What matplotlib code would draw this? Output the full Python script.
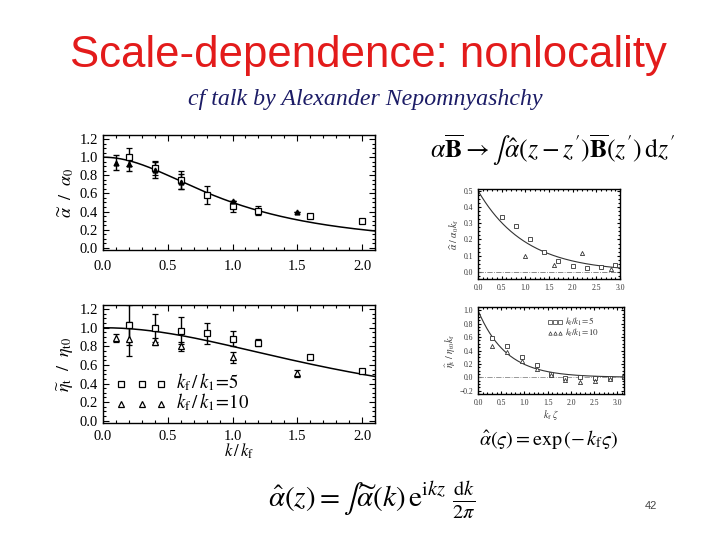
import numpy as np
import matplotlib
matplotlib.use("Agg")
import matplotlib.pyplot as plt
from matplotlib.ticker import MultipleLocator, AutoMinorLocator

plt.rcParams['mathtext.fontset'] = 'stix'
plt.rcParams['font.family'] = ['Liberation Serif', 'DejaVu Serif']

# ---- data ----
# top-left: alpha~ / alpha0 vs k/kf
ka_sq = [0.2, 0.4, 0.6, 0.8, 1.0, 1.2, 1.6, 2.0]
a_sq = [1.00, 0.88, 0.75, 0.58, 0.46, 0.41, 0.35, 0.29]
a_sq_err = [0.10, 0.08, 0.10, 0.10, 0.06, 0.05, 0.0, 0.0]
ka_tr = [0.1, 0.2, 0.4, 0.6, 1.0, 1.5]
a_tr = [0.94, 0.92, 0.86, 0.73, 0.52, 0.39]
a_tr_err = [0.08, 0.07, 0.09, 0.08, 0.0, 0.0]

# bottom-left: eta~_t / eta_t0 vs k/kf
ke_sq = [0.2, 0.4, 0.6, 0.8, 1.0, 1.2, 1.6, 2.0]
e_sq = [1.03, 1.00, 0.97, 0.94, 0.88, 0.84, 0.68, 0.54]
e_sq_err = [0.22, 0.15, 0.15, 0.11, 0.08, 0.04, 0.02, 0.02]
ke_tr = [0.1, 0.2, 0.4, 0.6, 1.0, 1.5]
e_tr = [0.89, 0.88, 0.85, 0.80, 0.68, 0.51]
e_tr_err = [0.04, 0.18, 0.04, 0.05, 0.06, 0.04]

# top-right: alpha^ / (alpha0 kf) vs kf zeta
za_sq = [0.5, 0.8, 1.1, 1.4, 1.7, 2.0, 2.3, 2.6, 2.9]
ah_sq = [0.34, 0.28, 0.20, 0.125, 0.07, 0.037, 0.025, 0.03, 0.043]
za_tr = [1.0, 1.6, 2.2, 2.8]
ah_tr = [0.10, 0.045, 0.117, 0.02]

# bottom-right: eta^_t / (eta_t0 kf) vs kf zeta
ze = [0.31, 0.63, 0.94, 1.26, 1.57, 1.88, 2.20, 2.51, 2.83, 3.14]
eh_sq = [0.59, 0.46, 0.31, 0.19, 0.05, -0.015, 0.005, -0.01, -0.01, 0.0]
eh_tr = [0.47, 0.38, 0.25, 0.13, 0.04, -0.04, -0.07, -0.06, -0.025, 0.0]

# model curves drawn on the panels
k0_alpha, k0_eta = 1.0, 2.0
decay_eta = 1.65

W, H = 720, 540
fig = plt.figure(figsize=(7.2, 5.4), dpi=100)
fig.patch.set_facecolor('white')


def px_axes(l, t, r, b):
    return fig.add_axes([l / W, 1 - b / H, (r - l) / W, (b - t) / H])


def idl_style(ax, size, xmaj, ymaj):
    ax.xaxis.set_major_locator(MultipleLocator(xmaj))
    ax.yaxis.set_major_locator(MultipleLocator(ymaj))
    ax.xaxis.set_minor_locator(AutoMinorLocator(5))
    ax.yaxis.set_minor_locator(AutoMinorLocator(4))
    ax.tick_params(which='both', direction='in', top=True, right=True,
                   labelsize=size, width=0.8)
    ax.tick_params(which='major', length=4)
    ax.tick_params(which='minor', length=2)
    for s in ax.spines.values():
        s.set_linewidth(1.0)


# ---- top-left ----
ax1 = px_axes(103, 135, 375, 250)
kk = np.linspace(0, 2.1, 200)
ax1.plot(kk, 1 / (1 + (kk / k0_alpha) ** 2), 'k-', lw=1.1)
ax1.errorbar(ka_sq, a_sq, yerr=a_sq_err, fmt='s', mfc='white', mec='k',
             ecolor='k', ms=5, mew=0.9, capsize=2, elinewidth=1)
ax1.errorbar(ka_tr, a_tr, yerr=a_tr_err, fmt='^', color='k', ms=3.5,
             capsize=2, elinewidth=1)
ax1.set_xlim(0, 2.1)
ax1.set_ylim(-0.025, 1.245)
idl_style(ax1, 10.5, 0.5, 0.2)
ax1.tick_params(axis='x', pad=7)
ax1.set_ylabel(r'$\widetilde{\alpha}\ \ /\ \ \alpha_0$', fontsize=13, labelpad=3)

# ---- bottom-left ----
ax2 = px_axes(103, 305, 375, 423)
ax2.plot(kk, 1 / (1 + (kk / k0_eta) ** 2), 'k-', lw=1.1)
ax2.errorbar(ke_sq, e_sq, yerr=e_sq_err, fmt='s', mfc='white', mec='k',
             ecolor='k', ms=5, mew=0.9, capsize=2, elinewidth=1)
ax2.errorbar(ke_tr, e_tr, yerr=e_tr_err, fmt='^', mfc='white', mec='k',
             ecolor='k', ms=4, mew=0.9, capsize=2, elinewidth=1)
ax2.plot([0.14, 0.30, 0.45], [0.40] * 3, 's', mfc='white', mec='k', ms=5, mew=0.9)
ax2.plot([0.14, 0.30, 0.45], [0.18] * 3, '^', mfc='white', mec='k', ms=4, mew=0.9)
ax2.text(0.56, 0.42, r'$k_{\rm f}\,/\,k_1\!=\!5$', fontsize=13.5, va='center')
ax2.text(0.56, 0.20, r'$k_{\rm f}\,/\,k_1\!=\!10$', fontsize=13.5, va='center')
ax2.set_xlim(0, 2.1)
ax2.set_ylim(-0.025, 1.245)
idl_style(ax2, 10.5, 0.5, 0.2)
ax2.tick_params(axis='x', pad=5)
ax2.set_ylabel(r'$\widetilde{\eta}_{\rm t}\ \ /\ \ \eta_{\rm t0}$', fontsize=13, labelpad=3)
ax2.set_xlabel(r'$k\,/\,k_{\rm f}$', fontsize=12, labelpad=-1)

# ---- top-right ----
ax3 = px_axes(478, 189, 620, 279)
zz = np.linspace(0, 3.0, 200)
ax3.plot(zz, 0.5 * np.exp(-zz / k0_alpha), color='#333333', lw=0.8)
ax3.axhline(0, color='#777777', lw=0.6, ls='-.')
ax3.plot(za_sq, ah_sq, 's', mfc='white', mec='#333333', ms=3, mew=0.6)
ax3.plot(za_tr, ah_tr, '^', mfc='white', mec='#333333', ms=3, mew=0.6)
ax3.set_xlim(0, 3.0)
ax3.set_ylim(-0.043, 0.51)
idl_style(ax3, 5.5, 0.5, 0.1)
ax3.tick_params(which='major', length=2.5)
ax3.tick_params(which='minor', length=1.2)
ax3.tick_params(labelcolor='#333333')
ax3.set_ylabel(r'$\widehat{\alpha}\ /\ \alpha_0 k_{\rm f}$', fontsize=7,
               color='#333333', labelpad=2)

# ---- bottom-right ----
ax4 = px_axes(478, 307, 624, 394)
zz2 = np.linspace(0, 3.14, 200)
ax4.plot(zz2, np.exp(-decay_eta * zz2), color='#333333', lw=0.8)
ax4.axhline(0, color='#888888', lw=0.6, ls='-.')
ax4.plot(ze, eh_sq, 's', mfc='white', mec='#333333', ms=3, mew=0.6)
ax4.plot(ze, eh_tr, '^', mfc='white', mec='#333333', ms=3, mew=0.6)
ax4.plot([1.55, 1.66, 1.77], [0.82] * 3, 's', mfc='white', mec='#333333', ms=2.5, mew=0.5)
ax4.plot([1.55, 1.66, 1.77], [0.66] * 3, '^', mfc='white', mec='#333333', ms=2.5, mew=0.5)
ax4.text(1.88, 0.83, r'$k_{\rm f}/k_1\!=\!5$', fontsize=6.5, va='center', color='#333333')
ax4.text(1.88, 0.67, r'$k_{\rm f}/k_1\!=\!10$', fontsize=6.5, va='center', color='#333333')
ax4.set_xlim(0, 3.14)
ax4.set_ylim(-0.25, 1.05)
idl_style(ax4, 5.5, 0.5, 0.2)
ax4.tick_params(which='major', length=2.5)
ax4.tick_params(which='minor', length=1.2)
ax4.tick_params(labelcolor='#333333')
ax4.set_ylabel(r'$\widehat{\eta}_{\rm t}\ /\ \eta_{\rm t0} k_{\rm f}$', fontsize=7,
               color='#333333', labelpad=2)
ax4.set_xlabel(r'$k_{\rm f}\ \zeta$', fontsize=7, color='#333333', labelpad=1)

# ---- slide text ----
fig.text(368 / W, 1 - 56 / H, 'Scale-dependence: nonlocality', ha='center', va='center',
         fontsize=31.5, color='#e31b1b', family=['Liberation Sans', 'DejaVu Sans'])
fig.text(365 / W, 1 - 100 / H, 'cf talk by Alexander Nepomnyashchy', ha='center',
         va='center', fontsize=17.2, style='italic', color='#1c1c66')
fig.text(553 / W, 1 - 150 / H,
         r"$\alpha\overline{\mathbf{B}}\rightarrow\int\hat{\alpha}(z-z')"
         r"\overline{\mathbf{B}}(z')\,\mathrm{d}z'$",
         ha='center', va='center', fontsize=18.5)
fig.text(549 / W, 1 - 440 / H, r'$\hat{\alpha}(\varsigma)=\exp\left(-\,k_{\rm f}\varsigma\right)$',
         ha='center', va='center', fontsize=14.5)
fig.text(372 / W, 1 - 500 / H,
         r'$\hat{\alpha}(z)=\int\widetilde{\alpha}(k)\,\mathrm{e}^{\mathrm{i}kz}\ \frac{\mathrm{d}k}{2\pi}$',
         ha='center', va='center', fontsize=21)
fig.text(651 / W, 1 - 506 / H, '42', ha='center', va='center', fontsize=8,
         color='#444444', family=['Liberation Sans', 'DejaVu Sans'])

fig.savefig('out.png', dpi=100)
